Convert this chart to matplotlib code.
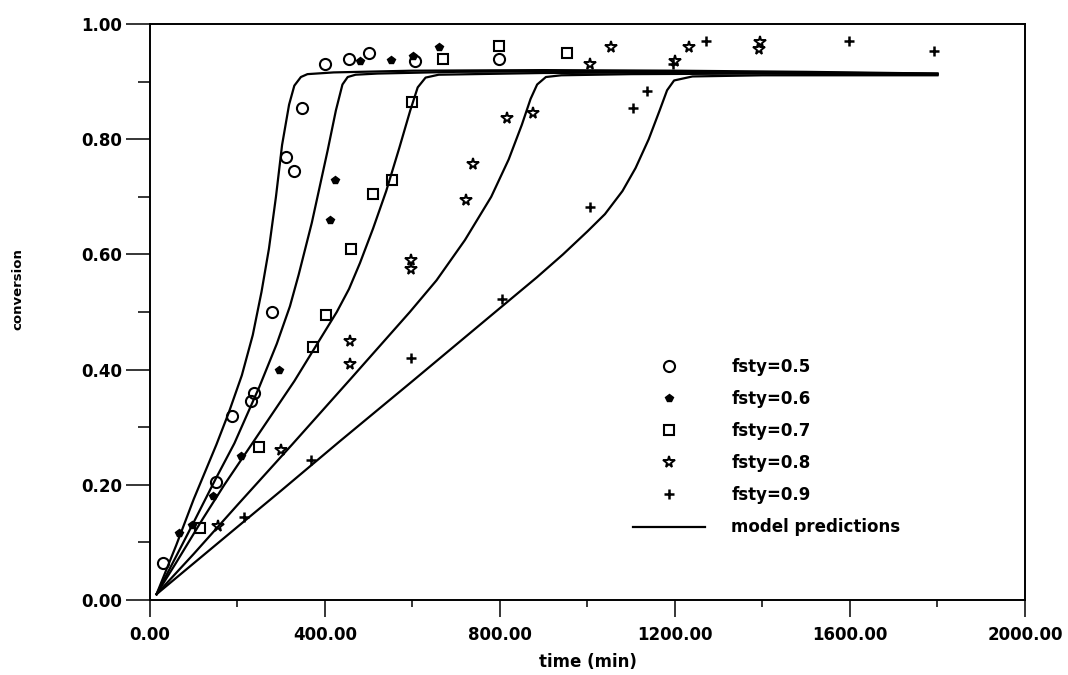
import matplotlib
matplotlib.use("Agg")
import matplotlib.pyplot as plt
from matplotlib.ticker import MultipleLocator, FormatStrFormatter

plt.rcParams["font.family"] = ["DejaVu Sans"]
plt.rcParams["font.weight"] = "bold"

# experimental data (time in min, conversion)
t_05 = [30, 150, 187, 230, 237, 280, 312, 330, 347, 400, 454, 500, 605, 797]
x_05 = [0.065, 0.205, 0.32, 0.345, 0.36, 0.50, 0.77, 0.745, 0.855, 0.93, 0.94, 0.95, 0.935, 0.94]

t_06 = [66, 95, 144, 207, 296, 411, 423, 480, 551, 601, 660]
x_06 = [0.117, 0.13, 0.18, 0.25, 0.40, 0.66, 0.73, 0.935, 0.937, 0.944, 0.96]

t_07 = [114, 250, 372, 403, 459, 510, 553, 600, 669, 797, 953]
x_07 = [0.125, 0.265, 0.44, 0.495, 0.61, 0.705, 0.73, 0.864, 0.94, 0.962, 0.95]

t_08 = [155, 299, 458, 457, 596, 596, 722, 739, 815, 876, 1005, 1053, 1201, 1231, 1395, 1393]
x_08 = [0.128, 0.26, 0.41, 0.45, 0.575, 0.59, 0.694, 0.757, 0.837, 0.846, 0.93, 0.96, 0.936,
        0.96, 0.968, 0.957]

t_09 = [214, 369, 596, 804, 1006, 1103, 1137, 1195, 1270, 1597, 1791]
x_09 = [0.144, 0.243, 0.42, 0.523, 0.683, 0.854, 0.884, 0.93, 0.97, 0.97, 0.953]

# model predictions
m_t_05 = [15, 60, 100, 152, 180, 210, 235, 255, 272, 288, 302, 318, 330, 345, 360, 420, 600, 900,
          1200, 1500, 1800]
m_x_05 = [0.01, 0.095, 0.175, 0.27, 0.325, 0.39, 0.46, 0.535, 0.61, 0.70, 0.79, 0.86, 0.893, 0.908,
          0.913, 0.916, 0.919, 0.92, 0.919, 0.917, 0.914]

m_t_06 = [15, 60, 100, 150, 193, 250, 290, 320, 340, 370, 406, 425, 440, 452, 470, 520, 700, 1000,
          1400, 1800]
m_x_06 = [0.01, 0.076, 0.135, 0.21, 0.272, 0.37, 0.445, 0.51, 0.565, 0.655, 0.78, 0.85, 0.895, 0.908,
          0.912, 0.914, 0.917, 0.918, 0.916, 0.914]

m_t_07 = [15, 60, 120, 170, 234, 330, 427, 455, 480, 510, 540, 570, 595, 612, 630, 660, 900, 1200,
          1500, 1800]
m_x_07 = [0.01, 0.065, 0.14, 0.20, 0.272, 0.38, 0.50, 0.54, 0.585, 0.645, 0.71, 0.785, 0.85, 0.89,
          0.907, 0.912, 0.915, 0.916, 0.915, 0.913]

m_t_08 = [15, 100, 200, 325, 460, 594, 655, 720, 780, 820, 850, 870, 885, 905, 940, 1100, 1400, 1800]
m_x_08 = [0.01, 0.08, 0.165, 0.27, 0.385, 0.50, 0.555, 0.625, 0.70, 0.765, 0.825, 0.87, 0.895, 0.908,
          0.911, 0.913, 0.914, 0.912]

m_t_09 = [15, 200, 300, 433, 600, 805, 884, 944, 1000, 1040, 1080, 1110, 1140, 1165, 1182, 1198, 1240,
          1400, 1800]
m_x_09 = [0.01, 0.127, 0.19, 0.275, 0.38, 0.51, 0.56, 0.60, 0.64, 0.67, 0.71, 0.75, 0.80, 0.85, 0.885,
          0.902, 0.909, 0.911, 0.911]

fig = plt.figure(figsize=(10.68, 6.75), dpi=100)
ax = fig.add_axes([0.1404, 0.1111, 0.8193, 0.8533])

# model curves
for mt, mx in [(m_t_05, m_x_05), (m_t_06, m_x_06), (m_t_07, m_x_07), (m_t_08, m_x_08), (m_t_09, m_x_09)]:
    ax.plot(mt, mx, color="black", linewidth=1.6)

# experimental points
ax.plot(t_05, x_05, linestyle="none", marker="o", markersize=8, markerfacecolor="none",
        markeredgecolor="black", markeredgewidth=1.5, label="fsty=0.5")
ax.plot(t_06, x_06, linestyle="none", marker="p", markersize=6, color="black", label="fsty=0.6")
ax.plot(t_07, x_07, linestyle="none", marker="s", markersize=7, markerfacecolor="none",
        markeredgecolor="black", markeredgewidth=1.5, label="fsty=0.7")
ax.plot(t_08, x_08, linestyle="none", marker="*", markersize=8.5, markerfacecolor="none",
        markeredgecolor="black", markeredgewidth=1.4, label="fsty=0.8")
ax.plot(t_09, x_09, linestyle="none", marker="+", markersize=7, markeredgecolor="black",
        markeredgewidth=1.8, label="fsty=0.9")
ax.plot([], [], color="black", linewidth=1.6, label="model predictions")

ax.set_xlim(0, 2000)
ax.set_ylim(0, 1.0)
ax.xaxis.set_major_locator(MultipleLocator(400))
ax.xaxis.set_minor_locator(MultipleLocator(200))
ax.yaxis.set_major_locator(MultipleLocator(0.2))
ax.yaxis.set_minor_locator(MultipleLocator(0.1))
ax.xaxis.set_major_formatter(FormatStrFormatter("%.2f"))
ax.yaxis.set_major_formatter(FormatStrFormatter("%.2f"))

ax.tick_params(axis="y", which="major", direction="out", length=17, width=1.1, pad=3, labelsize=12)
ax.tick_params(axis="y", which="minor", direction="out", length=9, width=1.1)
ax.tick_params(axis="x", which="major", direction="out", length=12, width=1.1, pad=7, labelsize=12)
ax.tick_params(axis="x", which="minor", direction="out", length=5, width=1.1)
for lab in ax.get_xticklabels() + ax.get_yticklabels():
    lab.set_fontweight("bold")
for sp in ax.spines.values():
    sp.set_linewidth(1.4)

ax.set_xlabel("time (min)", fontsize=12, fontweight="bold", labelpad=6)
ax.set_ylabel("conversion", fontsize=9.5, fontweight="bold")
ax.yaxis.set_label_coords(-0.144, 0.54)

ax.legend(loc="upper left", bbox_to_anchor=(0.552, 0.421), frameon=False,
          handlelength=4.3, handletextpad=1.6, labelspacing=0.85, borderpad=0, borderaxespad=0,
          prop={"weight": "bold", "size": 12})

fig.savefig("out.png", dpi=100)
